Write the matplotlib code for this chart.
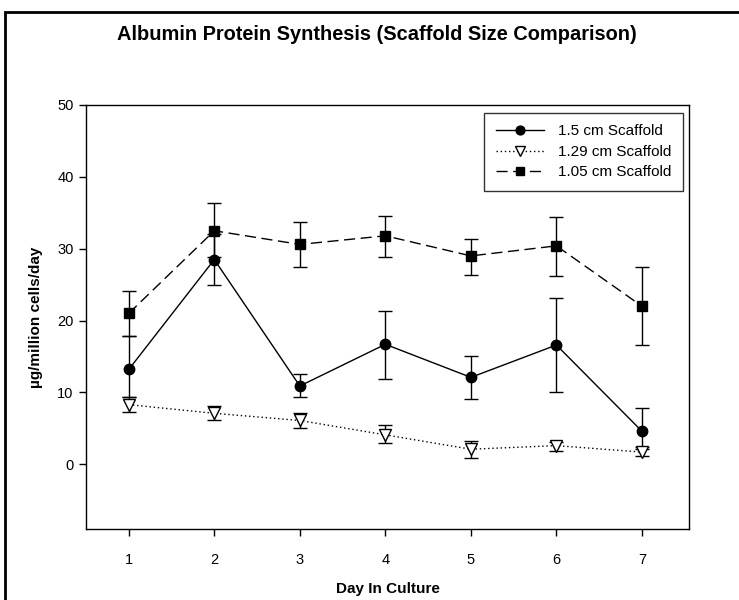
import matplotlib
matplotlib.use("Agg")
import matplotlib.pyplot as plt
from matplotlib.patches import Rectangle
from matplotlib.lines import Line2D
import numpy as np

plt.rcParams['font.family'] = ['Liberation Sans', 'DejaVu Sans']

days = [1, 2, 3, 4, 5, 6, 7]
day_labels = ['1', '2', '3', '4', '5', '6', '7']

# 1.5 cm scaffold: mean, upper bound, lower bound
s15_mean = [13.2, 28.5, 10.9, 16.7, 12.1, 16.6, 4.6]
s15_upper = [17.9, 32.0, 12.5, 21.4, 15.1, 23.2, 7.9]
s15_lower = [9.3, 24.9, 9.3, 11.9, 9.1, 10.0, 2.2]

# 1.29 cm scaffold
s129_mean = [8.3, 7.1, 6.1, 4.1, 2.1, 2.6, 1.7]
s129_upper = [9.3, 8.1, 7.2, 5.5, 3.3, 3.1, 2.4]
s129_lower = [7.3, 6.1, 5.0, 2.9, 0.9, 1.9, 1.2]

# 1.05 cm scaffold
s105_mean = [21.0, 32.5, 30.6, 31.8, 29.0, 30.4, 22.0]
s105_upper = [24.1, 36.3, 33.7, 34.6, 31.3, 34.4, 27.5]
s105_lower = [17.9, 28.9, 27.5, 28.9, 26.3, 26.2, 16.6]

series_names = ['1.5 cm Scaffold', '1.29 cm Scaffold', '1.05 cm Scaffold']
y_ticks = [0, 10, 20, 30, 40, 50]

W, H = 739, 600
fig = plt.figure(figsize=(W / 100, H / 100), dpi=100)
ax = fig.add_axes([86 / W, 1 - 529 / H, (689 - 86) / W, (529 - 105) / H])

def yerr(mean, lo, hi):
    m = np.array(mean)
    return [m - np.array(lo), np.array(hi) - m]

common = dict(color='black', ecolor='black', elinewidth=1.0, capsize=5,
              capthick=1.0, lw=1.0)

styles = [
    dict(marker='o', ms=7.5, mfc='black', mec='black', ls='-'),
    dict(marker='v', ms=8, mfc='white', mec='black', mew=1.0, ls=(0, (1, 2))),
    dict(marker='s', ms=7, mfc='black', mec='black', ls=(0, (8, 4))),
]
data = [(s15_mean, s15_lower, s15_upper),
        (s129_mean, s129_lower, s129_upper),
        (s105_mean, s105_lower, s105_upper)]

handles = []
for (m, lo, hi), st, name in zip(data, styles, series_names):
    ax.errorbar(days, m, yerr=yerr(m, lo, hi), **st, **common)
    hs = dict(st)
    hs['ms'] = st['ms'] * 0.85
    handles.append(Line2D([], [], color='black', lw=1.0, **hs))

ax.set_xlim(0.5, 7.55)
ax.set_ylim(-9, 50)
ax.set_xticks(days)
ax.set_xticklabels(day_labels)
ax.set_yticks(y_ticks)
ax.tick_params(direction='out', length=5, width=1, labelsize=10.5, pad=12,
               top=False, right=False)
ax.tick_params(axis='y', pad=4)
for sp in ax.spines.values():
    sp.set_linewidth(1.0)

ax.set_xlabel('Day In Culture', fontsize=11, fontweight='bold', labelpad=11)
ax.set_ylabel('µg/million cells/day', fontsize=11, fontweight='bold', labelpad=10)

fig.text(377 / W, 1 - 35 / H, 'Albumin Protein Synthesis (Scaffold Size Comparison)',
         ha='center', va='center', fontsize=14.4, fontweight='bold')

leg = ax.legend(handles, series_names, loc='upper right',
                bbox_to_anchor=(683 / W, 1 - 113 / H),
                bbox_transform=fig.transFigure, fontsize=11, frameon=True,
                fancybox=False, edgecolor='black', handlelength=3.2,
                borderpad=0.75, labelspacing=0.42, handletextpad=0.9,
                borderaxespad=0)
leg.get_frame().set_linewidth(1.0)

# Outer frame of the figure panel
fig.patches.append(Rectangle((5 / W, -0.05), 1.2, 1 - 12 / H + 0.05,
                             transform=fig.transFigure, fill=False,
                             edgecolor='black', linewidth=2.0))

fig.savefig('out.png', dpi=100)
